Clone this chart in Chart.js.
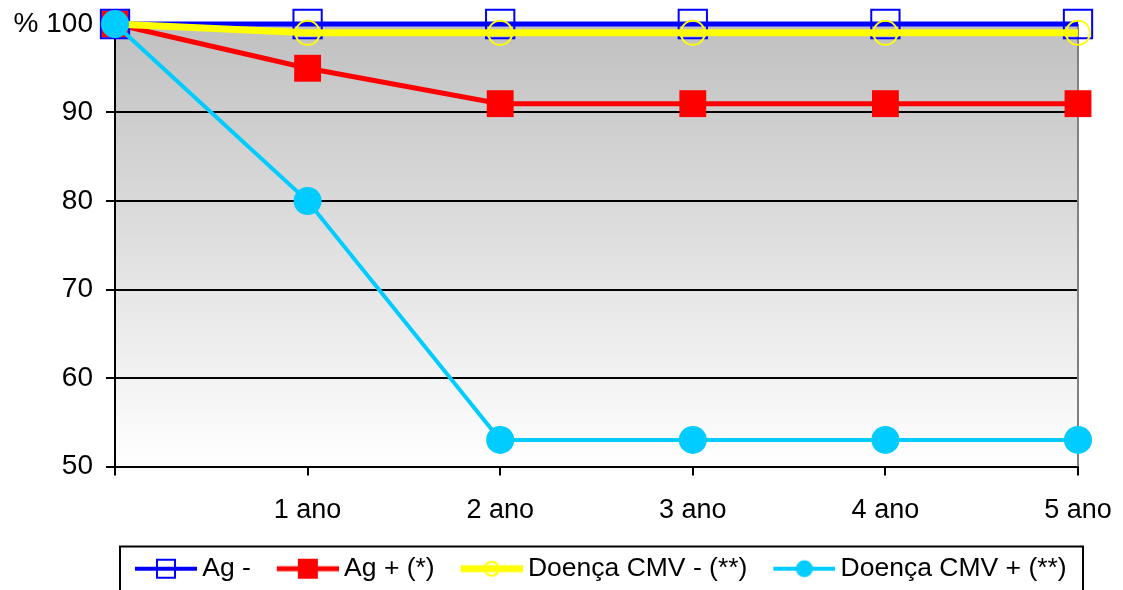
<!DOCTYPE html>
<html>
<head>
<meta charset="utf-8">
<script src="https://cdn.jsdelivr.net/npm/chart.js@4.4.1/dist/chart.umd.min.js"></script>
<style>
  html, body { margin: 0; padding: 0; background: #fff; }
  canvas { display: block; }
</style>
</head>
<body>
<canvas id="chart" width="1123" height="590"></canvas>
<script>
const labels = ["", "1 ano", "2 ano", "3 ano", "4 ano", "5 ano"];
const agNeg = [100, 100, 100, 100, 100, 100];
const agPos = [100, 95, 91, 91, 91, 91];
const cmvNeg = [100, 99, 99, 99, 99, 99];
const cmvPos = [100, 80, 53, 53, 53, 53];
const seriesNames = ["Ag -", "Ag + (*)", "Doença CMV - (**)", "Doença CMV + (**)"];
const yTicks = [50, 60, 70, 80, 90, 100];
const yUnit = "%";

Chart.defaults.font.family = "'Liberation Sans', Arial, sans-serif";
Chart.defaults.font.size = 26;
Chart.defaults.color = "#000";

// little line + marker pictures for the legend
function legendIcon(color, lineWidth, marker) {
  const c = document.createElement("canvas");
  c.width = 88;
  c.height = 30;
  const g = c.getContext("2d");
  g.strokeStyle = color;
  g.fillStyle = color;
  g.lineWidth = lineWidth;
  g.beginPath();
  g.moveTo(26, 15);
  g.lineTo(88, 15);
  g.stroke();
  g.lineWidth = 2;
  if (marker === "rectOpen") {
    g.strokeRect(48, 6, 18, 18);
  } else if (marker === "rect") {
    g.fillRect(47, 5, 20, 20);
  } else if (marker === "circleOpen") {
    g.beginPath();
    g.arc(57, 15, 7, 0, Math.PI * 2);
    g.stroke();
  } else {
    g.beginPath();
    g.arc(57, 15, 8.5, 0, Math.PI * 2);
    g.fill();
  }
  return c;
}

const icons = [
  legendIcon("#0000ff", 4, "rectOpen"),
  legendIcon("#ff0000", 5, "rect"),
  legendIcon("#ffff00", 7, "circleOpen"),
  legendIcon("#00ccff", 4, "circle"),
];

const plotFrame = {
  id: "plotFrame",
  afterLayout(chart) {
    // start the legend row under the plot, not at the canvas edge
    chart.legend.left = chart.chartArea.left - 6;
    chart.legend.right = chart.width;
  },
  beforeDraw(chart) {
    const { ctx, chartArea: a } = chart;
    const grad = ctx.createLinearGradient(0, a.top, 0, a.bottom);
    grad.addColorStop(0, "#c0c0c0");
    grad.addColorStop(1, "#ffffff");
    ctx.save();
    ctx.fillStyle = grad;
    ctx.fillRect(a.left, a.top, a.width, a.height);
    ctx.restore();
  },
  beforeDatasetsDraw(chart) {
    const { ctx, chartArea: a } = chart;
    ctx.save();
    ctx.strokeStyle = "#808080";
    ctx.lineWidth = 2;
    ctx.beginPath();
    ctx.moveTo(a.right, a.top);
    ctx.lineTo(a.right, a.bottom);
    ctx.stroke();
    ctx.restore();
  },
  afterDraw(chart) {
    const { ctx, chartArea: a, legend } = chart;
    ctx.save();
    ctx.strokeStyle = "#000";
    ctx.lineWidth = 2;
    ctx.strokeRect(a.left + 5, legend.top - 1, a.width, chart.height);
    ctx.restore();
  },
};

new Chart(document.getElementById("chart"), {
  type: "line",
  data: {
    labels: labels,
    datasets: [
      {
        label: seriesNames[0],
        data: agNeg,
        borderColor: "#0000ff",
        backgroundColor: "rgba(0,0,0,0)",
        borderWidth: 5,
        pointStyle: "rect",
        pointRadius: 20,
        pointBorderWidth: 2,
        pointBorderColor: "#0000ff",
        pointBackgroundColor: "rgba(0,0,0,0)",
        order: 2,
      },
      {
        label: seriesNames[1],
        data: agPos,
        borderColor: "#ff0000",
        backgroundColor: "#ff0000",
        borderWidth: 5,
        pointStyle: "rect",
        pointRadius: 19,
        pointBorderWidth: 0,
        pointBackgroundColor: "#ff0000",
        order: 3,
      },
      {
        label: seriesNames[2],
        data: cmvNeg,
        borderColor: "#ffff00",
        backgroundColor: "rgba(0,0,0,0)",
        borderWidth: 7,
        pointStyle: "circle",
        pointRadius: 12,
        pointBorderWidth: 2,
        pointBorderColor: "#ffff00",
        pointBackgroundColor: "rgba(0,0,0,0)",
        order: 1,
      },
      {
        label: seriesNames[3],
        data: cmvPos,
        borderColor: "#00ccff",
        backgroundColor: "#00ccff",
        borderWidth: 4,
        pointStyle: "circle",
        pointRadius: 14,
        pointBorderWidth: 0,
        pointBackgroundColor: "#00ccff",
        order: 0,
      },
    ],
  },
  options: {
    responsive: false,
    animation: false,
    clip: false,
    layout: { padding: { left: 0, right: 45, top: 24, bottom: -2 } },
    elements: { line: { tension: 0 } },
    plugins: {
      tooltip: { enabled: false },
      legend: {
        position: "bottom",
        align: "start",
        labels: {
          usePointStyle: true,
          pointStyleWidth: 72,
          padding: 8,
          color: "#000",
          font: { size: 26.5 },
          generateLabels: (chart) =>
            Chart.defaults.plugins.legend.labels
              .generateLabels(chart)
              .sort((a, b) => a.datasetIndex - b.datasetIndex)
              .map((item) => Object.assign(item, { pointStyle: icons[item.datasetIndex] })),
        },
      },
    },
    scales: {
      x: {
        grid: { drawOnChartArea: false, color: "#000", lineWidth: 2, tickLength: 9 },
        border: { color: "#000", width: 2 },
        ticks: { padding: 19, maxRotation: 0, autoSkip: false, font: { size: 27 } },
        afterFit: (s) => {
          s.height = 81;
          s.paddingLeft = 0;
          s.paddingRight = 0;
        },
      },
      y: {
        min: yTicks[0],
        max: yTicks[yTicks.length - 1],
        afterBuildTicks: (s) => { s.ticks = yTicks.map((v) => ({ value: v })); },
        ticks: {
          padding: 13,
          font: { size: 28 },
          callback: (v) => (v === yTicks[yTicks.length - 1] ? yUnit + " " + v : v),
        },
        grid: { color: "#000", lineWidth: 2, tickLength: 9 },
        border: { color: "#000", width: 2 },
        afterFit: (s) => {
          s.width = 115;
          s.paddingTop = 0;
          s.paddingBottom = 0;
        },
      },
    },
  },
  plugins: [plotFrame],
});
</script>
</body>
</html>
